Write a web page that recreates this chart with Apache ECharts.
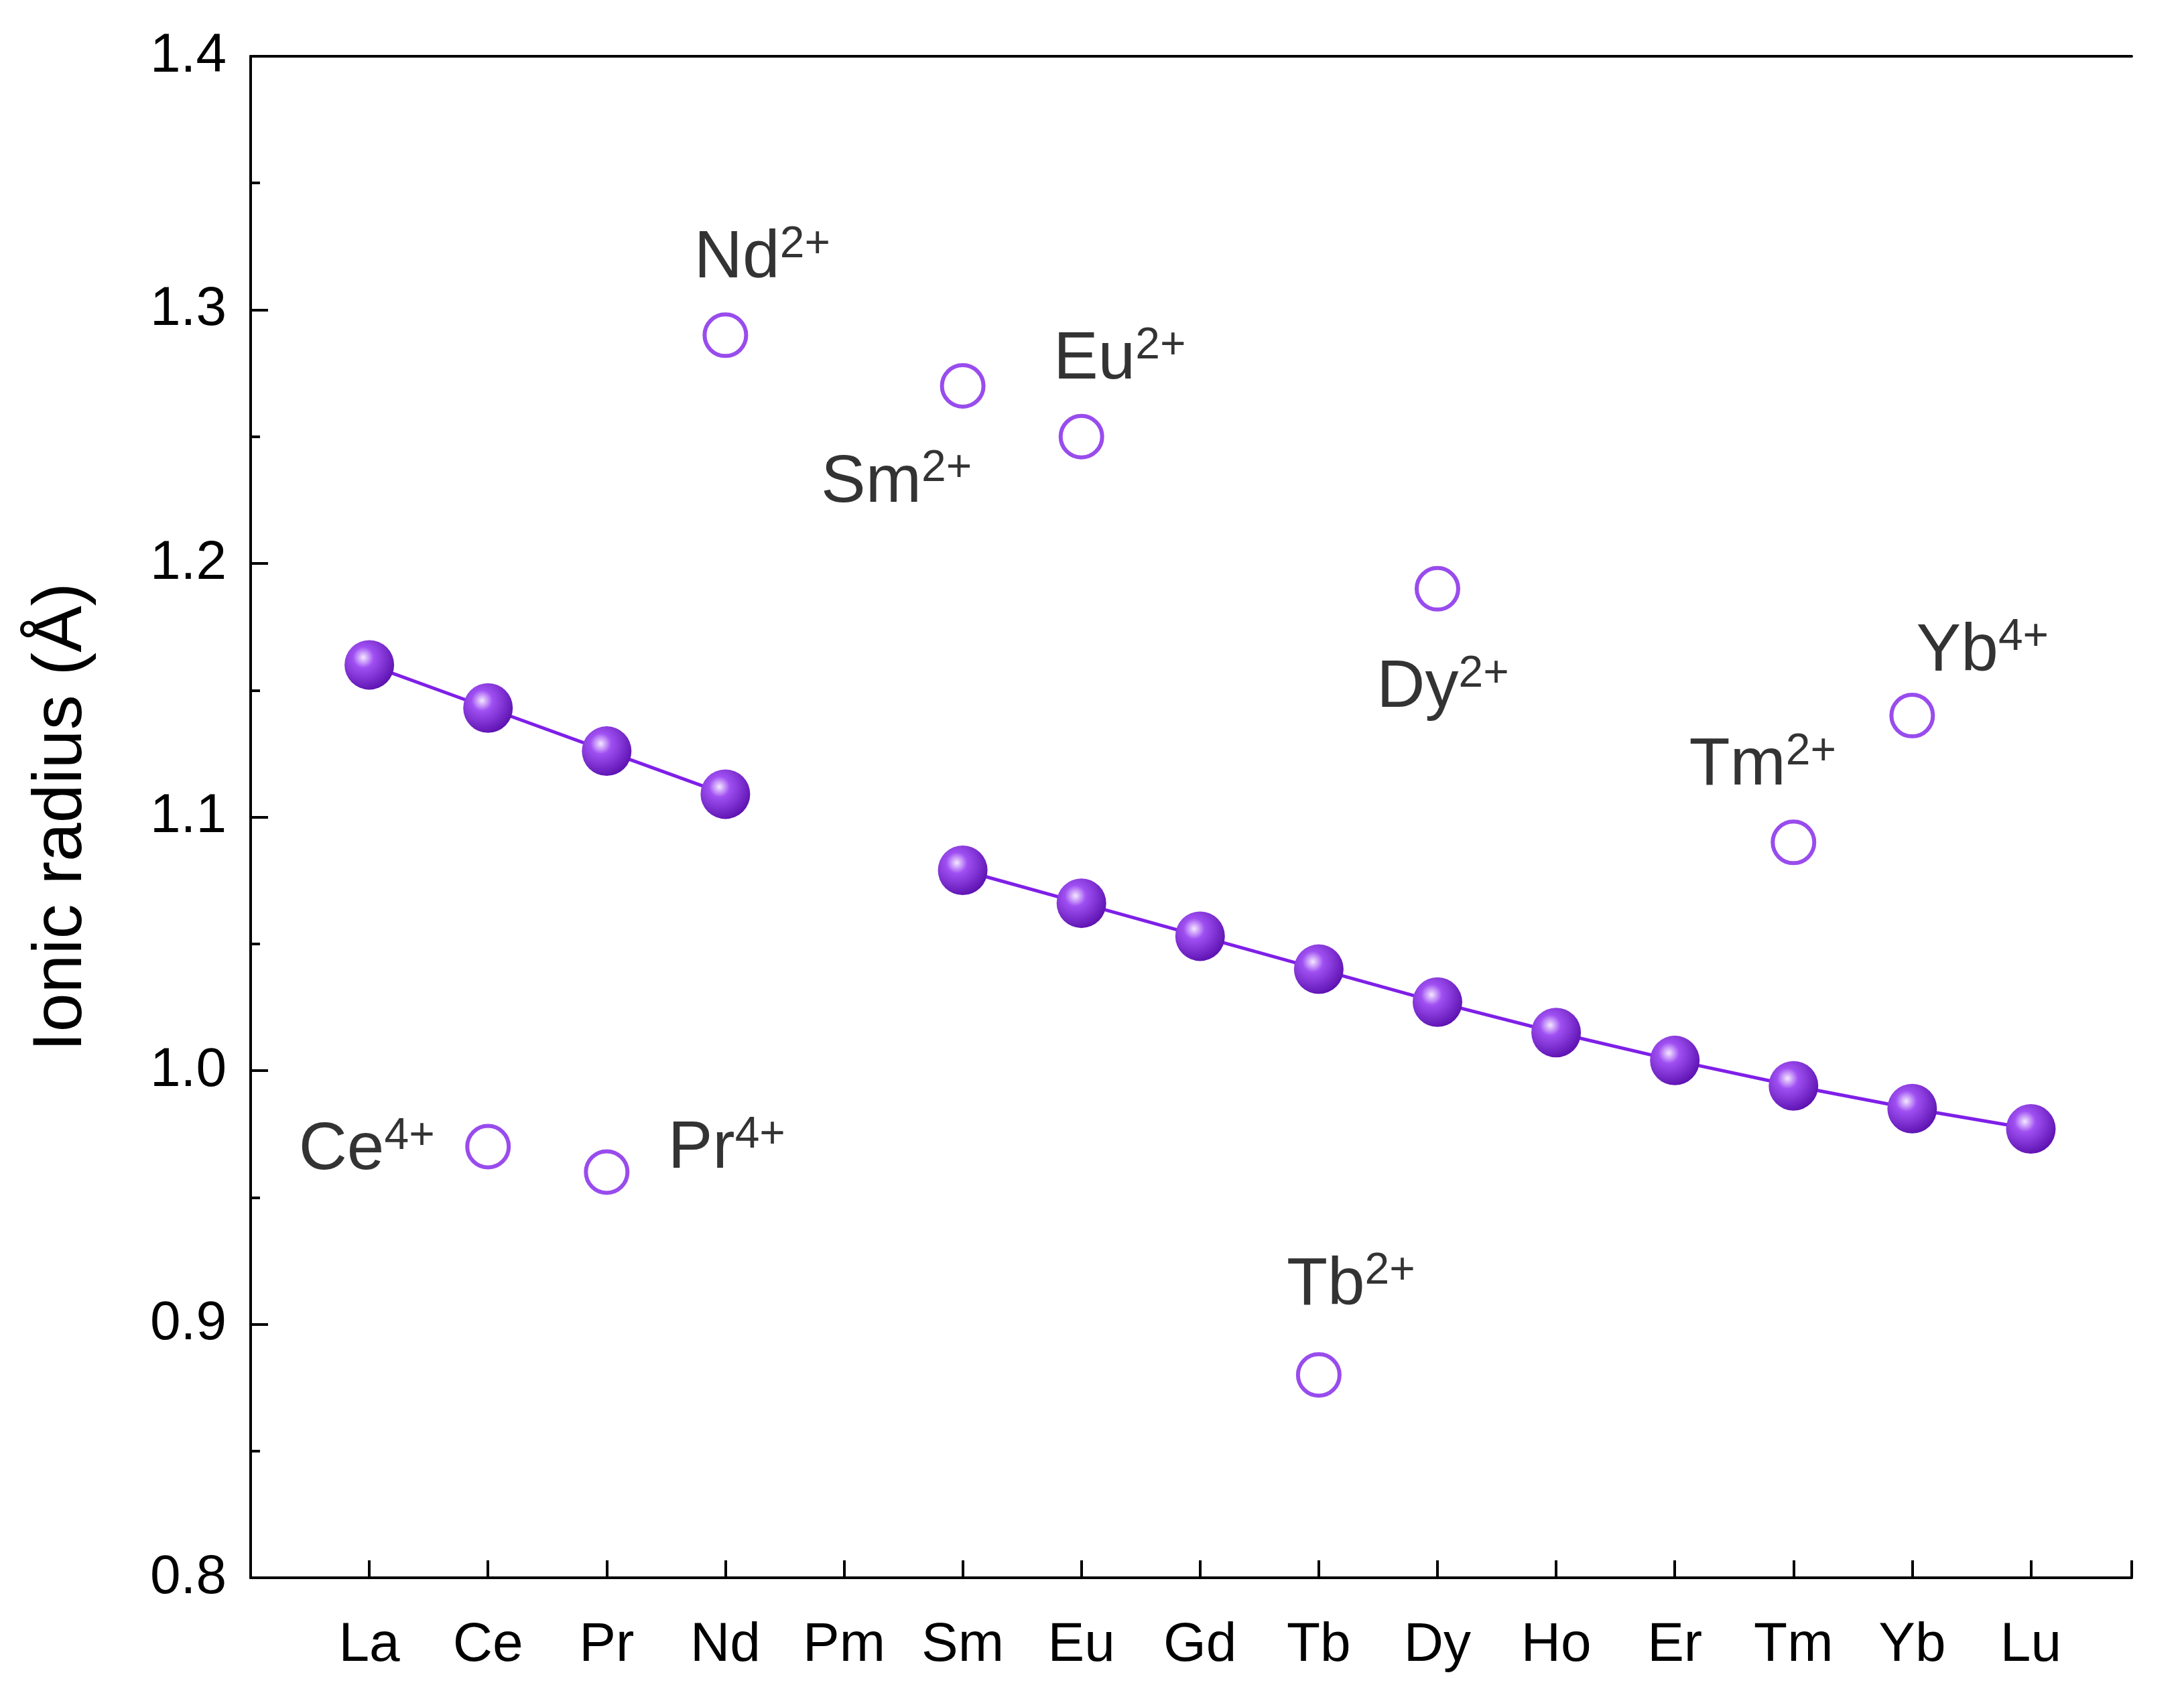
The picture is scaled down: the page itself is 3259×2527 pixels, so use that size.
<!DOCTYPE html>
<html><head><meta charset="utf-8">
<script src="https://cdn.jsdelivr.net/npm/echarts@6/dist/echarts.min.js"></script>
<style>html,body{margin:0;padding:0;background:#fff}#c{width:3259px;height:2527px}</style>
</head><body><div id="c"></div>
<script>
const categories = ['La','Ce','Pr','Nd','Pm','Sm','Eu','Gd','Tb','Dy','Ho','Er','Tm','Yb','Lu'];
const trivalentA = [['La',1.160],['Ce',1.143],['Pr',1.126],['Nd',1.109]];
const trivalentB = [['Sm',1.079],['Eu',1.066],['Gd',1.053],['Tb',1.040],['Dy',1.027],['Ho',1.015],['Er',1.004],['Tm',0.994],['Yb',0.985],['Lu',0.977]];
const otherIons = [
  ['Ce','4+',0.97],['Pr','4+',0.96],['Nd','2+',1.29],['Sm','2+',1.27],['Eu','2+',1.25],
  ['Tb','2+',0.88],['Dy','2+',1.19],['Tm','2+',1.09],['Yb','4+',1.14]
];
const labelOffsets = {Ce:[-181,4],Pr:[179,-36],Nd:[55,-116],Sm:[-99,143],Eu:[57,-116],Tb:[48,-135],Dy:[8,147],Tm:[-46,-116],Yb:[105,-97]};

const purple = '#7F1FE8';
const idx = n => categories.indexOf(n) + 1;
const sphere = {type:'radial',x:0.38,y:0.35,r:0.7,colorStops:[{offset:0,color:'#f4e8ff'},{offset:0.3,color:'#a050f2'},{offset:1,color:'#5a0fae'}]};
const filledSeries = d => ({
  type:'line', data:d.map(p=>[idx(p[0]),p[1]]), symbol:'circle', symbolSize:74,
  lineStyle:{color:purple,width:5}, itemStyle:{color:sphere,borderWidth:0}, z:3
});
const tfont = 'Arial, "Liberation Sans", sans-serif';
const chart = echarts.init(document.getElementById('c'));
chart.setOption({
  animation:false,
  grid:{left:374,right:78,top:84,bottom:172},
  xAxis:[{type:'value',min:0,max:15.85,interval:1,
    axisLine:{lineStyle:{color:'#000',width:4}},
    axisTick:{inside:true,length:26,lineStyle:{color:'#000',width:4}},
    splitLine:{show:false},showMaxLabel:false,
    axisLabel:{margin:60,fontSize:82,color:'#000',fontFamily:tfont,formatter:v=>categories[v-1]||''}},
   {type:'value',position:'top',min:0,max:15.85,axisLine:{show:true,lineStyle:{color:'#000',width:4}},axisTick:{show:false},axisLabel:{show:false},splitLine:{show:false}}],
  yAxis:[{type:'value',min:0.8,max:1.4,interval:0.1,
    axisLine:{show:true,lineStyle:{color:'#000',width:4}},
    axisTick:{inside:true,length:26,lineStyle:{color:'#000',width:4}},
    minorTick:{show:true,splitNumber:2,length:14,lineStyle:{color:'#000',width:4}},
    splitLine:{show:false},
    axisLabel:{margin:36,fontSize:82,color:'#000',fontFamily:tfont,formatter:v=>v.toFixed(1)},
    name:'Ionic radius (Å)',nameLocation:'middle',nameGap:230,
    nameTextStyle:{fontSize:104,color:'#000',fontFamily:tfont}},
   {type:'value',position:'right',min:0.8,max:1.4,axisLine:{show:true,lineStyle:{color:'#000',width:4}},axisTick:{show:false},axisLabel:{show:false},splitLine:{show:false}}],
  series:[
    filledSeries(trivalentA), filledSeries(trivalentB),
    {type:'scatter',symbol:'circle',symbolSize:62,
     itemStyle:{color:'#fff',borderColor:purple,borderWidth:6},z:4,
     data:otherIons.map(o=>({value:[idx(o[0]),o[2]],
       label:{show:true,position:'inside',offset:labelOffsets[o[0]],color:'#000',
         formatter:'{b|'+o[0]+'}{s|'+o[1]+'}',
         rich:{b:{fontSize:100,color:'#000',fontFamily:tfont,lineHeight:104,verticalAlign:'bottom'},
               s:{fontSize:66,color:'#000',fontFamily:tfont,lineHeight:104,verticalAlign:'top'}}}}))}
  ]
});
</script></body></html>
